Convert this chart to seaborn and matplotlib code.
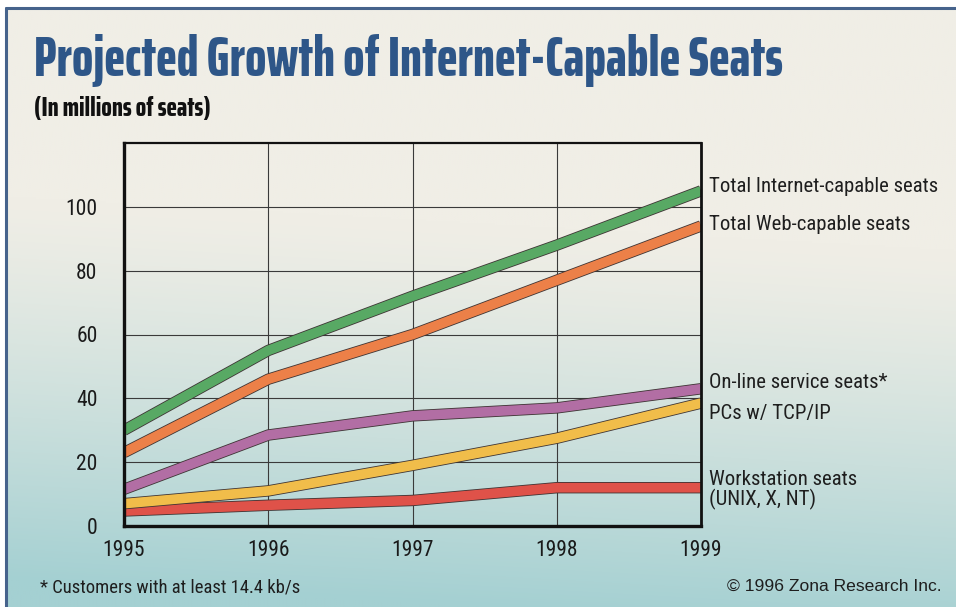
import matplotlib
matplotlib.use("Agg")
from matplotlib import pyplot as plt
from matplotlib import patheffects as pe
import numpy as np
import pandas as pd
import seaborn as sns

# data (millions of seats)
years = [1995, 1996, 1997, 1998, 1999]
internet_seats = [30, 55, 72, 88, 105]
web_seats = [23, 46, 60, 77, 94]
online_seats = [11.5, 28.5, 34.5, 37, 43]
pc_tcpip = [7, 11, 19, 27.5, 38.5]
workstation_seats = [4.7, 6.5, 8, 12, 12]

series_names = ["Total Internet-capable seats", "Total Web-capable seats",
                "On-line service seats*", "PCs w/ TCP/IP", "Workstation seats\n(UNIX, X, NT)"]
series_values = [internet_seats, web_seats, online_seats, pc_tcpip, workstation_seats]
series_colors = ["#58a964", "#ec8048", "#b26ea4", "#f1bd4a", "#df5249"]
y_ticks = [0, 20, 40, 60, 80, 100]

W, H = 956, 607
TITLE_FONT = ["Saira ExtraCondensed", "DejaVu Sans"]
BODY_FONT = ["Roboto Condensed", "Liberation Sans", "DejaVu Sans"]

sns.set_theme(style="white")

df = pd.concat([pd.DataFrame({"year": years, "seats": v, "series": n})
                for n, v in zip(series_names, series_values)])
palette = dict(zip(series_names, series_colors))

fig = plt.figure(figsize=(W / 100, H / 100), dpi=100)
fig.patch.set_facecolor("white")


def px(x, y):
    return x / W, 1 - y / H


# gradient backdrop (cream at the top, pale teal at the bottom)
bg = fig.add_axes([6 / W, 0, (W - 6) / W, (H - 8) / H], zorder=-10)
gy, gx = np.mgrid[0:1:300j, 0:1:300j]
t = np.clip((gy - 0.36) / 0.64 + (0.5 - gx) * 0.14, 0, 1) ** 1.25
top = np.array([240, 238, 230]) / 255
bottom = np.array([164, 208, 210]) / 255
img = top[None, None, :] * (1 - t[..., None]) + bottom[None, None, :] * t[..., None]
bg.imshow(img, aspect="auto", extent=[0, 1, 1, 0], interpolation="bilinear")
bg.set_axis_off()

# frame edges on the top and left
fig.add_artist(plt.Line2D([6 / W, 1], [1 - 8 / H, 1 - 8 / H], color="#46638c", lw=2.2))
fig.add_artist(plt.Line2D([6 / W, 6 / W], [0, 1 - 8 / H], color="#46638c", lw=2.2))

ax = fig.add_axes([124 / W, (H - 526) / H, (701 - 124) / W, (526 - 143) / H])
ax.set_facecolor("none")

sns.lineplot(data=df, x="year", y="seats", hue="series", palette=palette,
             hue_order=series_names[::-1], legend=False, ax=ax, linewidth=7.0)
for line in ax.lines:
    line.set_solid_capstyle("butt")
    line.set_solid_joinstyle("round")
    line.set_path_effects([pe.Stroke(linewidth=8.2, foreground="#3e3434"), pe.Normal()])

ax.set_xlim(years[0], years[-1])
ax.set_ylim(0, 120)
ax.set_xticks(years)
ax.set_yticks(y_ticks)
ax.grid(True, which="major", color="#3a3a3a", lw=0.8)
ax.set_xlabel("")
ax.set_ylabel("")
ax.tick_params(length=0, labelsize=15.5, colors="#1a1a1a")
ax.tick_params(axis="y", pad=19)
ax.tick_params(axis="x", pad=10)
for lab in ax.get_xticklabels() + ax.get_yticklabels():
    lab.set_family(BODY_FONT)
for side, w in [("left", 2.4), ("bottom", 2.4), ("right", 2.0), ("top", 1.6)]:
    ax.spines[side].set_visible(True)
    ax.spines[side].set_color("#111111")
    ax.spines[side].set_linewidth(w)

renderer = fig.canvas.get_renderer()


def fit(txt, width):
    w = txt.get_window_extent(renderer).width
    txt.set_fontsize(txt.get_fontsize() * width / w)
    return txt


title = fig.text(*px(34, 76), "Projected Growth of Internet-Capable Seats", family=TITLE_FONT,
                 weight="heavy", fontsize=40, color="#2e5688", ha="left", va="baseline")
fit(title, 749)
sub = fig.text(*px(34, 108), "(In millions of seats)", family=TITLE_FONT, weight="heavy",
               fontsize=16, color="#111111", ha="left", va="center")
fit(sub, 176)

# right-hand series labels
label_y = [186, 224, 382, 413, 490]
lab_size = None
for name, ly in zip(series_names, label_y):
    txt = fig.text(*px(709, ly), name, family=BODY_FONT, fontsize=14, color="#1e1e1e",
                   ha="left", va="center", linespacing=1.05)
    if lab_size is None:
        fit(txt, 231)
        lab_size = txt.get_fontsize()
    else:
        txt.set_fontsize(lab_size)

note = fig.text(*px(40, 588), "* Customers with at least 14.4 kb/s", family=BODY_FONT,
                fontsize=12, color="#1e1e1e", ha="left", va="center")
fit(note, 260)
cr = fig.text(*px(942, 586), "\u00a9 1996 Zona Research Inc.", family=["Liberation Sans", "DejaVu Sans"],
              fontsize=12, color="#1e1e1e", ha="right", va="center")
fit(cr, 214)

fig.savefig("out.png", dpi=100, facecolor=fig.get_facecolor())
